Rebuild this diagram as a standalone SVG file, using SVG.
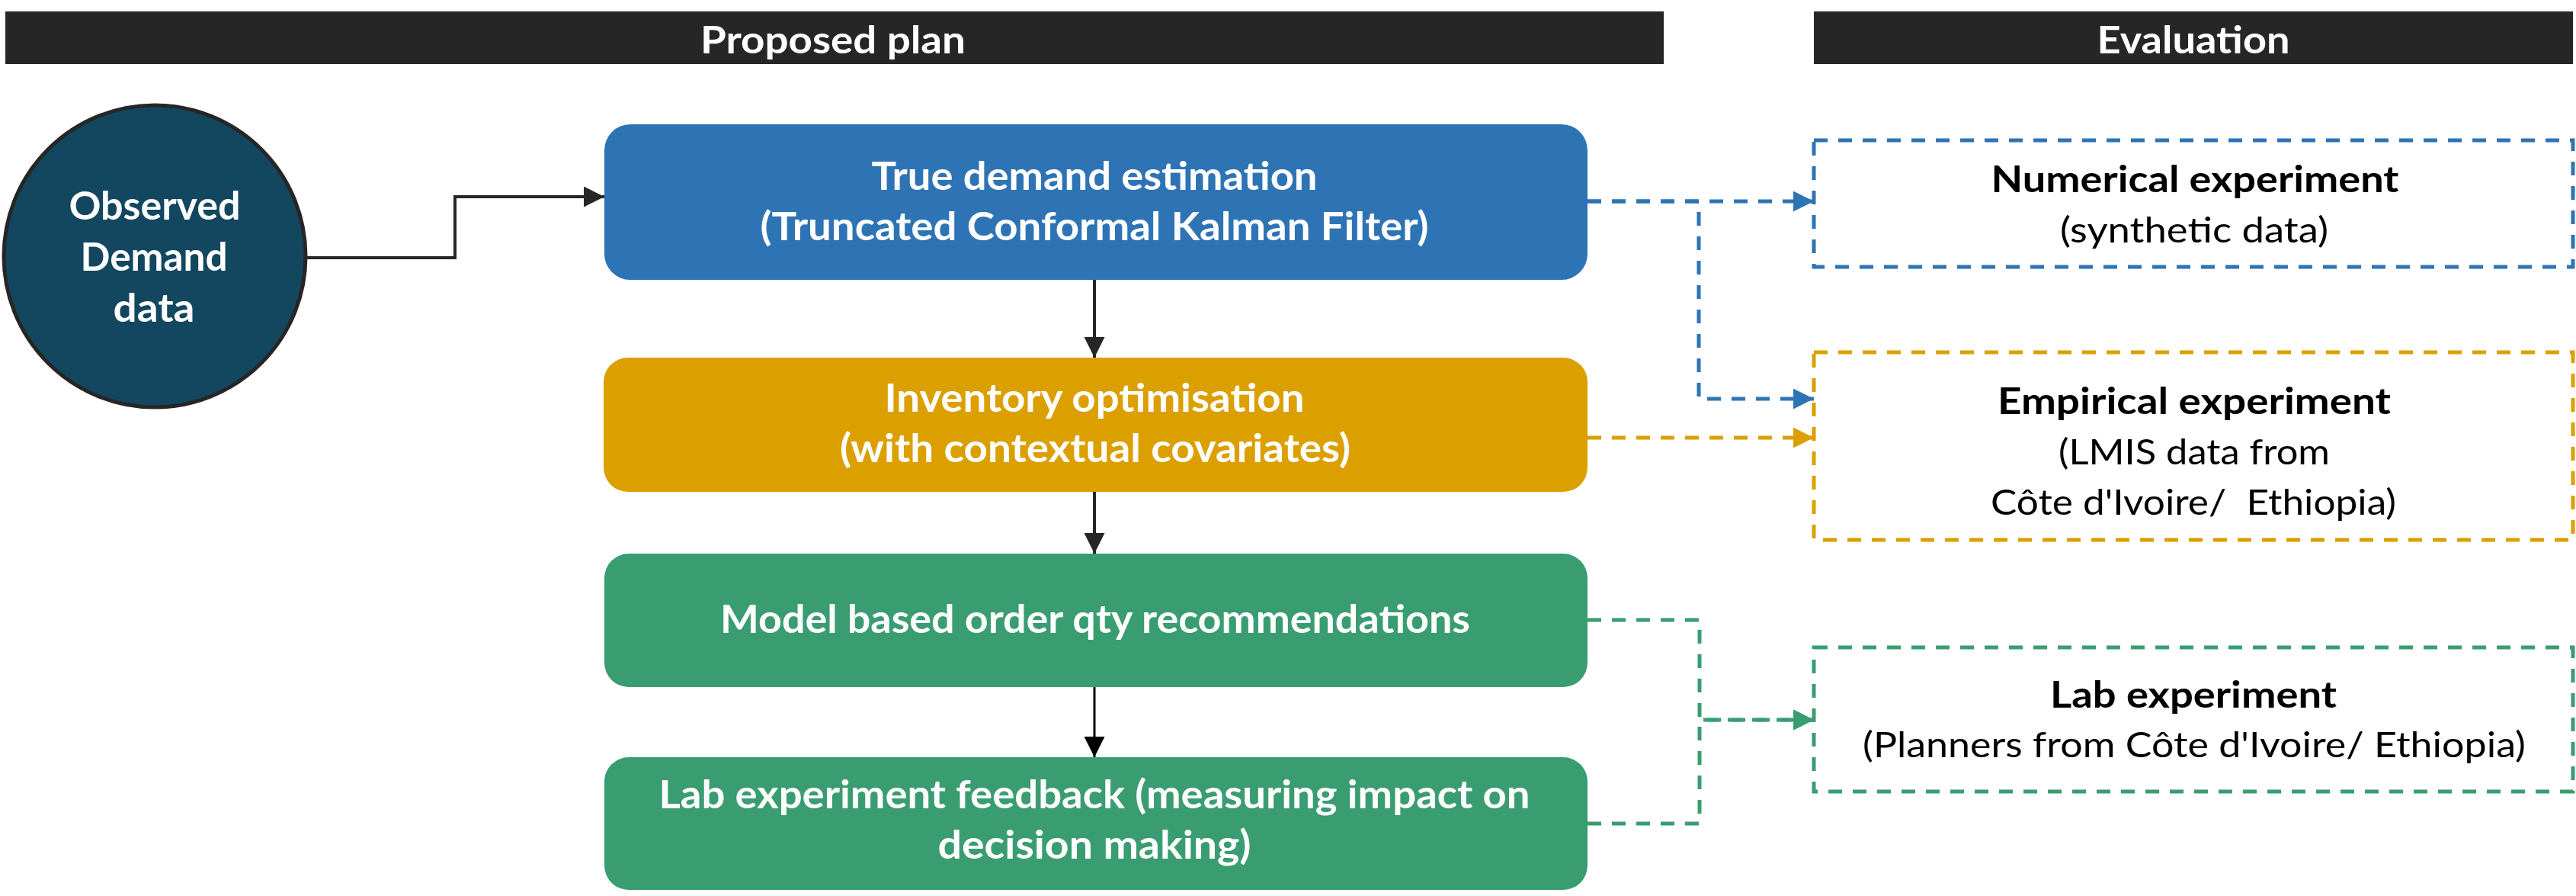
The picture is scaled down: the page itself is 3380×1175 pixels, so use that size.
<svg xmlns="http://www.w3.org/2000/svg" width="3380" height="1175" viewBox="0 0 3380 1175">
<style>
text{font-family:Lato,"Noto Sans","Liberation Sans",sans-serif;text-anchor:middle}
.hdr{font-size:50px;font-weight:700;fill:#fff}
.bx{font-size:52px;font-weight:700;fill:#fff}
.tt{font-size:47px;font-weight:700;fill:#000}
.rg{font-size:46px;font-weight:400;fill:#000}
.solid{fill:none;stroke:#262626;stroke-width:4}
.dash{fill:none;stroke-width:5;stroke-dasharray:18 14}
.ev{fill:#fff;stroke-width:5;stroke-dasharray:18 14}
</style>
<defs>
<marker id="ak" markerWidth="27" markerHeight="27" refX="27" refY="13.5" orient="auto" markerUnits="userSpaceOnUse"><path d="M0,0 L27,13.5 L0,27 Z" fill="#262626"/></marker>
<marker id="ak2" markerWidth="27" markerHeight="27" refX="27" refY="13.5" orient="auto" markerUnits="userSpaceOnUse"><path d="M0,0 L27,13.5 L0,27 Z" fill="#000"/></marker>
<marker id="ab" markerWidth="27" markerHeight="27" refX="27" refY="13.5" orient="auto" markerUnits="userSpaceOnUse"><path d="M0,0 L27,13.5 L0,27 Z" fill="#2E74B5"/></marker>
<marker id="ao" markerWidth="27" markerHeight="27" refX="27" refY="13.5" orient="auto" markerUnits="userSpaceOnUse"><path d="M0,0 L27,13.5 L0,27 Z" fill="#DBA000"/></marker>
<marker id="ag" markerWidth="27" markerHeight="27" refX="27" refY="13.5" orient="auto" markerUnits="userSpaceOnUse"><path d="M0,0 L27,13.5 L0,27 Z" fill="#3A9D72"/></marker>
</defs>
<rect width="3380" height="1175" fill="#fff"/>

<g id="header-plan">
<rect x="7" y="15" width="2176" height="69" fill="#262626"/>
<text class="hdr" x="1093" y="70" textLength="348" lengthAdjust="spacingAndGlyphs">Proposed plan</text>
</g>
<g id="header-eval">
<rect x="2380" y="15" width="996" height="69" fill="#262626"/>
<text class="hdr" x="2878" y="70" textLength="253" lengthAdjust="spacingAndGlyphs">Evaluation</text>
</g>

<g id="connectors">
<path class="solid" d="M403,338 H597 V258 H793" marker-end="url(#ak)"/>
<path class="solid" d="M1436,367 V469" marker-end="url(#ak)"/>
<path class="solid" d="M1436,645 V726" marker-end="url(#ak)"/>
<path d="M1436,901 V993" fill="none" stroke="#000" stroke-width="3" marker-end="url(#ak2)"/>
<path class="dash" stroke="#2E74B5" d="M2083,264 H2380" marker-end="url(#ab)"/>
<path class="dash" stroke="#2E74B5" d="M2083,264 H2229 V523 H2380" marker-end="url(#ab)"/>
<path class="dash" stroke="#DBA000" d="M2083,574 H2380" marker-end="url(#ao)"/>
<path class="dash" stroke="#3A9D72" d="M2083,813 H2230 V944 H2380" marker-end="url(#ag)"/>
<path class="dash" stroke="#3A9D72" d="M2083,1080 H2230 V944 H2380" marker-end="url(#ag)"/>
</g>

<g id="observed">
<circle cx="203" cy="336" r="198" fill="#13475F" stroke="#262626" stroke-width="5"/>
<text class="bx" x="203" y="288" textLength="225" lengthAdjust="spacingAndGlyphs">Observed</text>
<text class="bx" x="202" y="355" textLength="193" lengthAdjust="spacingAndGlyphs">Demand</text>
<text class="bx" x="202" y="422" textLength="107" lengthAdjust="spacingAndGlyphs">data</text>
</g>

<g id="true-demand">
<rect x="793" y="163" width="1290" height="204" rx="34" fill="#2E74B5"/>
<text class="bx" x="1436" y="249" textLength="585" lengthAdjust="spacingAndGlyphs">True demand estimation</text>
<text class="bx" x="1436" y="315" textLength="877" lengthAdjust="spacingAndGlyphs">(Truncated Conformal Kalman Filter)</text>
</g>

<g id="inventory">
<rect x="792" y="469" width="1291" height="176" rx="32" fill="#DBA000"/>
<text class="bx" x="1436" y="540" textLength="551" lengthAdjust="spacingAndGlyphs">Inventory optimisation</text>
<text class="bx" x="1437" y="606" textLength="670" lengthAdjust="spacingAndGlyphs">(with contextual covariates)</text>
</g>

<g id="model">
<rect x="793" y="726" width="1290" height="175" rx="32" fill="#3A9D72"/>
<text class="bx" x="1437" y="830" textLength="984" lengthAdjust="spacingAndGlyphs">Model based order qty recommendations</text>
</g>

<g id="lab-feedback">
<rect x="793" y="993" width="1290" height="174" rx="32" fill="#3A9D72"/>
<text class="bx" x="1436" y="1060" textLength="1143" lengthAdjust="spacingAndGlyphs">Lab experiment feedback (measuring impact on</text>
<text class="bx" x="1436" y="1126" textLength="411" lengthAdjust="spacingAndGlyphs">decision making)</text>
</g>

<g id="numerical">
<rect class="ev" x="2380" y="184" width="996" height="166" stroke="#2E74B5"/>
<text class="tt" x="2880" y="252" textLength="535" lengthAdjust="spacingAndGlyphs">Numerical experiment</text>
<text class="rg" x="2879" y="318" textLength="352" lengthAdjust="spacingAndGlyphs">(synthetic data)</text>
</g>

<g id="empirical">
<rect class="ev" x="2380" y="462" width="996" height="246" stroke="#DBA000"/>
<text class="tt" x="2879" y="543" textLength="516" lengthAdjust="spacingAndGlyphs">Empirical experiment</text>
<text class="rg" x="2879" y="609" textLength="356" lengthAdjust="spacingAndGlyphs">(LMIS data from</text>
<text class="rg" x="2878" y="675" textLength="532" lengthAdjust="spacingAndGlyphs" xml:space="preserve">Côte d'Ivoire/  Ethiopia)</text>
</g>

<g id="lab">
<rect class="ev" x="2380" y="849" width="996" height="189" stroke="#3A9D72"/>
<text class="tt" x="2878" y="928" textLength="376" lengthAdjust="spacingAndGlyphs">Lab experiment</text>
<text class="rg" x="2879" y="993" textLength="870" lengthAdjust="spacingAndGlyphs">(Planners from Côte d'Ivoire/ Ethiopia)</text>
</g>
</svg>
